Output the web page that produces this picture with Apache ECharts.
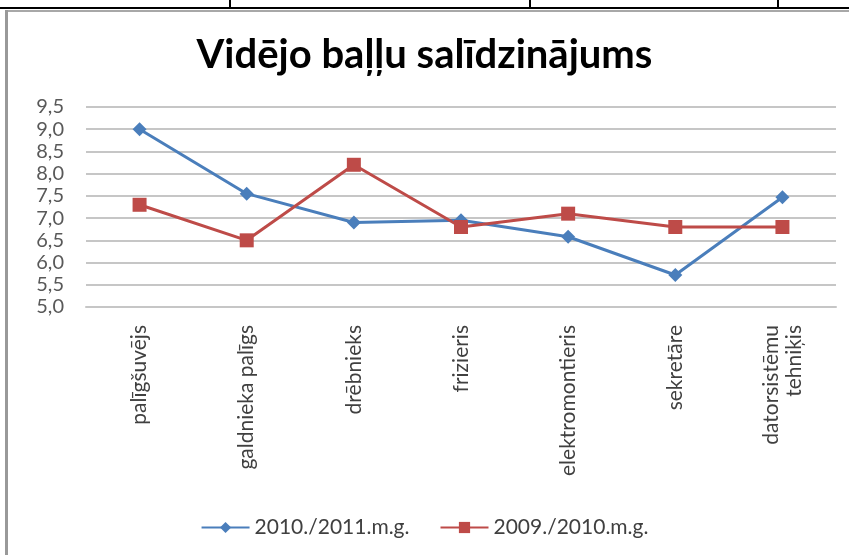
<!DOCTYPE html>
<html>
<head>
<meta charset="utf-8">
<script src="https://cdn.jsdelivr.net/npm/echarts@6/dist/echarts.min.js"></script>
<style>html,body{margin:0;padding:0;background:#fff}#c{width:849px;height:555px}</style>
</head>
<body>
<div id="c"></div>
<script>
const categories = ["palīgšuvējs", "galdnieka palīgs", "drēbnieks", "frizieris", "elektromontieris", "sekretāre", "datorsistēmu\ntehniķis"];
const series2010_2011 = [9.0, 7.55, 6.9, 6.95, 6.58, 5.72, 7.47];
const series2009_2010 = [7.3, 6.5, 8.2, 6.8, 7.1, 6.8, 6.8];
const seriesNames = ["2010./2011.m.g.", "2009./2010.m.g."];
const titleText = "Vidējo baļļu salīdzinājums";

const chart = echarts.init(document.getElementById('c'), null, {renderer: 'canvas'});
const font = 'Lato, "Open Sans", sans-serif';
chart.setOption({
  animation: false,
  backgroundColor: '#fff',
  title: {
    text: titleText, left: 'center', top: 30,
    textStyle: {fontFamily: font, fontSize: 40, fontWeight: 'bold', color: '#000'}
  },
  legend: {
    bottom: 12, left: 'center', itemWidth: 48, itemHeight: 14, itemGap: 30,
    textStyle: {fontFamily: font, fontSize: 21, color: '#404040'},
    data: [seriesNames[0], seriesNames[1]]
  },
  grid: {left: 86, right: 13, top: 107, bottom: 248},
  xAxis: {
    type: 'category', data: categories, boundaryGap: true,
    axisLine: {show: true, lineStyle: {color: '#c6c6c6', width: 2}},
    axisTick: {show: false},
    axisLabel: {rotate: 90, margin: 18, fontFamily: font, fontSize: 21, color: '#404040', lineHeight: 23, align: 'right', verticalAlign: 'middle'}
  },
  yAxis: {
    type: 'value', min: 5, max: 9.5, interval: 0.5,
    axisLine: {show: false}, axisTick: {show: false},
    splitLine: {lineStyle: {color: '#c6c6c6', width: 2}},
    axisLabel: {margin: 22, fontFamily: font, fontSize: 20, color: '#595959',
      formatter: v => v.toFixed(1).replace('.', ',')}
  },
  series: [
    {name: seriesNames[0], type: 'line', data: series2010_2011, symbol: 'diamond', symbolSize: 14,
     itemStyle: {color: '#4a7ebb'}, lineStyle: {width: 3, color: '#4a7ebb'}},
    {name: seriesNames[1], type: 'line', data: series2009_2010, symbol: 'rect', symbolSize: 14,
     itemStyle: {color: '#be4b48'}, lineStyle: {width: 3, color: '#be4b48'}}
  ],
  graphic: [
    {type: 'line', shape: {x1: 0, y1: 8, x2: 849, y2: 8}, style: {stroke: '#000', lineWidth: 2}},
    {type: 'line', shape: {x1: 230, y1: 0, x2: 230, y2: 8}, style: {stroke: '#000', lineWidth: 2}},
    {type: 'line', shape: {x1: 530, y1: 0, x2: 530, y2: 8}, style: {stroke: '#000', lineWidth: 2}},
    {type: 'line', shape: {x1: 778, y1: 0, x2: 778, y2: 8}, style: {stroke: '#000', lineWidth: 2}},
    {type: 'line', shape: {x1: 6, y1: 11, x2: 849, y2: 11}, style: {stroke: '#a8a8a8', lineWidth: 2}},
    {type: 'line', shape: {x1: 6.5, y1: 10, x2: 6.5, y2: 555}, style: {stroke: '#999', lineWidth: 3}}
  ]
});
</script>
</body>
</html>
